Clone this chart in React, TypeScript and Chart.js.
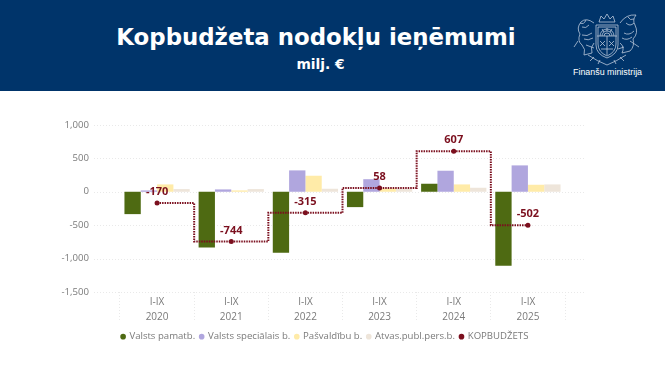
import React, { useEffect, useRef } from "react";
import { Chart, registerables } from "chart.js";

Chart.register(...registerables);

const years = ["2020", "2021", "2022", "2023", "2024", "2025"];
const period = "I-IX";
const valstsPamatb = [-335, -835, -915, -230, 120, -1110];
const valstsSpecialais = [20, 35, 320, 188, 315, 395];
const pasvaldibu = [110, 20, 240, 50, 110, 105];
const atvasPubl = [40, 40, 45, 45, 60, 110];
const kopbudzets = [-170, -744, -315, 58, 607, -502];
const yTicks = { min: -1500, max: 1000, step: 500 };

const GREY = "#7a7a7a";
const GRID = "#e9e9e9";
const RED = "#7b0f1e";
const FONT = "'Open Sans', 'Noto Sans', sans-serif";

const chromePlugin = {
  id: "chrome",
  afterLayout(chart: any) {
    if (chart.legend) {
      chart.legend.left = 85;
      chart.legend.right = 565;
      chart.legend.top += 4;
      chart.legend.bottom += 4;
    }
  },
  beforeDatasetsDraw(chart: any) {
    const { ctx, chartArea, scales } = chart;
    ctx.save();
    ctx.strokeStyle = GRID;
    ctx.lineWidth = 1;
    ctx.setLineDash([1, 2]);
    scales.y.ticks.forEach((_: any, i: number) => {
      const y = Math.round(scales.y.getPixelForTick(i)) + 0.5;
      ctx.beginPath();
      ctx.moveTo(chartArea.left - 26, y);
      ctx.lineTo(chartArea.right + 21, y);
      ctx.stroke();
    });
    ctx.restore();
  },
  afterDatasetsDraw(chart: any) {
    const { ctx } = chart;
    const idx = chart.data.datasets.length - 1;
    const meta = chart.getDatasetMeta(idx);
    ctx.save();
    ctx.fillStyle = RED;
    ctx.font = `bold 11px ${FONT}`;
    ctx.textAlign = "center";
    ctx.textBaseline = "middle";
    meta.data.forEach((pt: any, i: number) => {
      ctx.fillText(String(kopbudzets[i]), pt.x, pt.y - 11);
    });
    ctx.restore();
  },
};

export default function App() {
  const ref = useRef<HTMLCanvasElement>(null);

  useEffect(() => {
    document.body.style.margin = "0";
    const bar = (label: string, data: number[], color: string) => ({
      type: "bar" as const,
      label,
      data,
      backgroundColor: color,
      borderWidth: 0,
      barPercentage: 1,
      categoryPercentage: 0.88,
      pointStyle: "circle",
      order: 2,
    });
    const chart = new Chart(ref.current!, {
      type: "bar",
      data: {
        labels: years.map((y) => [period, y]),
        datasets: [
          bar("Valsts pamatb.", valstsPamatb, "#4e6a12"),
          bar("Valsts speciālais b.", valstsSpecialais, "#b0a6de"),
          bar("Pašvaldību b.", pasvaldibu, "#ffeba8"),
          bar("Atvas.publ.pers.b.", atvasPubl, "#eee5da"),
          {
            type: "line" as const,
            label: "KOPBUDŽETS",
            data: kopbudzets,
            borderColor: RED,
            backgroundColor: RED,
            borderWidth: 2,
            borderDash: [1.5, 1],
            stepped: "middle",
            pointRadius: 2.5,
            pointBackgroundColor: RED,
            pointBorderWidth: 0,
            pointStyle: "circle",
            order: 1,
          },
        ],
      } as any,
      options: {
        responsive: false,
        animation: false,
        locale: "en-US",
        layout: { padding: { top: 125, right: 100, bottom: 27.5, left: 0 } },
        plugins: {
          tooltip: { enabled: false },
          legend: {
            position: "bottom",
            labels: {
              usePointStyle: true,
              boxWidth: 3,
              boxHeight: 4,
              padding: 5,
              color: GREY,
              font: { family: FONT, size: 9.6 },
              sort: (a: any, b: any) => a.datasetIndex - b.datasetIndex,
            },
          },
        },
        scales: {
          x: {
            border: { display: false },
            grid: {
              offset: true,
              drawOnChartArea: false,
              drawTicks: true,
              tickLength: 28,
              tickColor: GRID,
              tickBorderDash: [1, 2],
            },
            ticks: {
              color: GREY,
              padding: -25.5,
              maxRotation: 0,
              font: { family: FONT, size: 10, lineHeight: 1.5 },
            },
            afterFit(scale: any) {
              scale.height = 31;
            },
          },
          y: {
            min: yTicks.min,
            max: yTicks.max,
            border: { display: false },
            grid: { display: false },
            ticks: {
              stepSize: yTicks.step,
              color: GREY,
              padding: 23,
              font: { family: FONT, size: 9.6 },
            },
            afterFit(scale: any) {
              scale.width = 120;
            },
          },
        },
      } as any,
      plugins: [chromePlugin],
    });
    return () => chart.destroy();
  }, []);

  return (
    <div style={{ position: "relative", width: 665, height: 375, overflow: "hidden", background: "#fff" }}>
      <canvas ref={ref} width={665} height={375} style={{ position: "absolute", left: 0, top: 0, display: "block" }} />
      <div style={{ position: "absolute", left: 0, top: 0, width: 665, height: 91, background: "#00346a" }}>
        <div
          style={{
            position: "absolute",
            left: 0,
            width: 632,
            top: 21,
            textAlign: "center",
            color: "#fff",
            font: "bold 22.85px/32px 'DejaVu Sans', sans-serif",
            whiteSpace: "nowrap",
          }}
        >
          Kopbudžeta nodokļu ieņēmumi
        </div>
        <div
          style={{
            position: "absolute",
            left: 0,
            width: 641,
            top: 54,
            textAlign: "center",
            color: "#fff",
            font: "bold 13.8px/20px 'DejaVu Sans', sans-serif",
          }}
        >
          milj. €
        </div>
        <svg width="70" height="56" viewBox="0 0 70 56" style={{ position: "absolute", left: 572, top: 11 }} fill="none" stroke="#b9c7d9" strokeWidth="0.8">
          <path d="M24 14 H46 V34 Q46 43 35 47 Q24 43 24 34 Z" />
          <path d="M26 16 H44 V33 Q44 41 35 45 Q26 41 26 33 Z" />
          <path d="M28 25 A7 7 0 0 1 42 25 M30 25 A5 5 0 0 1 40 25 M32 25 A3 3 0 0 1 38 25" />
          <path d="M25 25 H45 M35 25 V44 M30 18 L32 21 M35 17 V20 M40 18 L38 21" />
          <path d="M28 30 L33 35 M28 35 L33 30 M37 30 L42 35 M37 35 L42 30 M29 38 H41" />
          <path d="M27 11 L29 5 L32 8 L35 3 L38 8 L41 5 L43 11 Z" />
          <path d="M22 12 Q14 6 9 11 Q4 17 8 23 Q5 30 10 34 Q14 38 12 44 L20 42 Q18 36 22 32 M10 16 Q14 18 17 14 M10 24 Q15 26 20 22 M6 30 L2 36 M14 34 L22 37 M8 12 Q12 14 14 9 M12 28 Q16 30 21 27" />
          <path d="M48 12 Q54 3 64 4 Q60 9 63 14 Q67 22 61 28 Q63 35 58 40 L50 42 Q53 36 48 32 M54 12 Q58 16 62 12 M52 22 Q57 25 62 20 M58 30 L67 36 M52 36 L46 38 M56 6 Q58 10 62 8 M50 27 Q55 30 60 26" />
          <path d="M16 44 Q25 50 35 54 Q45 50 54 44 M22 46 L18 50 M48 46 L52 50 M28 49 L26 53 M42 49 L44 53" />
        </svg>
        <div
          style={{
            position: "absolute",
            left: 573,
            top: 66,
            color: "#fff",
            font: "8.9px/13px 'Liberation Sans', sans-serif",
            whiteSpace: "nowrap",
          }}
        >
          Finanšu ministrija
        </div>
      </div>
    </div>
  );
}
